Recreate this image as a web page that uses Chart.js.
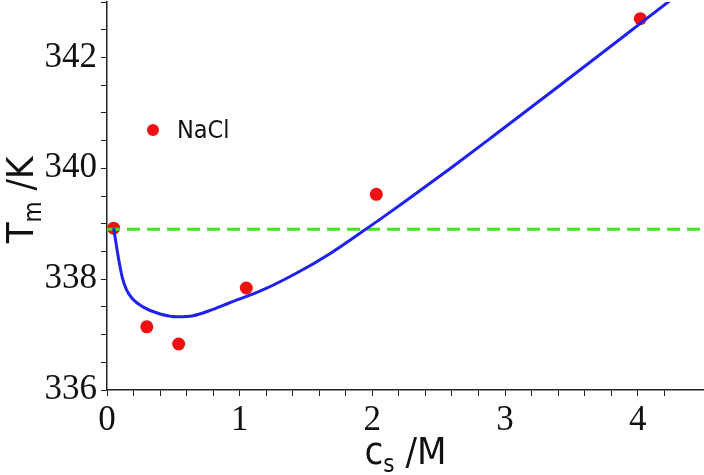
<!DOCTYPE html>
<html>
<head>
<meta charset="utf-8">
<script src="https://cdn.jsdelivr.net/npm/chart.js@4.4.0/dist/chart.umd.min.js"></script>
<style>
    html, body { margin: 0; padding: 0; background: #ffffff; }
</style>
</head>
<body>
<canvas id="grafico" width="704" height="475"></canvas>
<script>
// puntos medidos (NaCl)
const datosX = [0.05, 0.30, 0.54, 1.05, 2.03, 4.02];
const datosTm = [338.92, 337.14, 336.83, 337.84, 339.53, 342.70];

// curva teorica
const ajusteX = [0.05, 0.07, 0.09, 0.115, 0.145, 0.19, 0.27, 0.40, 0.53, 0.65, 0.77, 0.92, 1.17, 1.43, 1.68, 1.92, 2.10, 2.28, 2.60, 2.90, 3.41, 3.91, 4.23, 4.35];
const ajusteTm = [338.92, 338.62, 338.33, 338.03, 337.82, 337.65, 337.50, 337.37, 337.32, 337.34, 337.43, 337.57, 337.80, 338.11, 338.46, 338.85, 339.15, 339.46, 340.02, 340.56, 341.49, 342.41, 343.00, 343.22];

// linea de referencia (sin sal)
const referenciaX = [0, 4.5];
const referenciaTm = 338.9;

// etiquetas de los ejes
const ticksX = [0, 1, 2, 3, 4];
const ticksY = [336, 338, 340, 342];

const colores = {
    puntos: '#f01010',
    ajuste: '#1f22ee',
    referencia: '#3fe41a',
    eje: '#222222',
    texto: '#111111'
};

function etiqueta(lista) {
    return function(value) {
        const t = lista.find(v => Math.abs(v - value) < 1e-6);
        return t === undefined ? '' : String(t);
    };
}

// titulos de ejes con subindice + leyenda interna
const textosExtra = {
    id: 'textosExtra',
    afterDraw(chart) {
        const { ctx, chartArea } = chart;
        const fuente = '"DejaVu Sans Condensed", "DejaVu Sans", sans-serif';

        function conSubindice(base, sub, resto, tam) {
            ctx.font = tam + 'px ' + fuente;
            const w1 = ctx.measureText(base).width;
            const w3 = ctx.measureText(resto).width;
            ctx.font = Math.round(tam * 0.62) + 'px ' + fuente;
            const w2 = ctx.measureText(sub).width;
            const total = w1 + w2 + w3;
            let x = -total / 2;
            ctx.textAlign = 'left';
            ctx.textBaseline = 'alphabetic';
            ctx.font = tam + 'px ' + fuente;
            ctx.fillText(base, x, 0);
            x += w1;
            ctx.font = Math.round(tam * 0.62) + 'px ' + fuente;
            ctx.fillText(sub, x, tam * 0.22);
            x += w2;
            ctx.font = tam + 'px ' + fuente;
            ctx.fillText(resto, x, 0);
        }

        ctx.save();
        ctx.fillStyle = colores.texto;

        // eje y
        ctx.save();
        ctx.translate(33, 200);
        ctx.rotate(-Math.PI / 2);
        conSubindice('T', 'm', ' /K', 38);
        ctx.restore();

        // eje x
        ctx.save();
        ctx.translate((chartArea.left + chartArea.right) / 2, 464);
        conSubindice('c', 's', ' /M', 38);
        ctx.restore();

        // leyenda
        const lx = chartArea.left + 46;
        const ly = chartArea.top + 128;
        ctx.beginPath();
        ctx.arc(lx, ly, 6, 0, Math.PI * 2);
        ctx.fillStyle = colores.puntos;
        ctx.fill();
        ctx.fillStyle = colores.texto;
        ctx.font = '25px ' + fuente;
        ctx.textAlign = 'left';
        ctx.textBaseline = 'middle';
        ctx.fillText('NaCl', lx + 24, ly + 1);

        ctx.restore();
    }
};

const ctx = document.getElementById('grafico');

new Chart(ctx, {
    type: 'scatter',
    data: {
        datasets: [
            {
                label: 'ajuste',
                type: 'line',
                data: ajusteX.map((x, i) => ({ x: x, y: ajusteTm[i] })),
                borderColor: colores.ajuste,
                borderWidth: 3,
                pointRadius: 0,
                fill: false,
                cubicInterpolationMode: 'monotone'
            },
            {
                label: 'referencia',
                type: 'line',
                data: referenciaX.map(x => ({ x: x, y: referenciaTm })),
                borderColor: colores.referencia,
                borderWidth: 3,
                borderDash: [13, 7],
                pointRadius: 0,
                fill: false
            },
            {
                label: 'NaCl',
                data: datosX.map((x, i) => ({ x: x, y: datosTm[i] })),
                backgroundColor: colores.puntos,
                borderWidth: 0,
                pointRadius: 6.5
            }
        ]
    },
    options: {
        responsive: false,
        animation: false,
        layout: {
            autoPadding: false,
            padding: { top: 2, left: 0, right: 0, bottom: 0 }
        },
        scales: {
            x: {
                type: 'linear',
                min: 0,
                max: 4.5,
                afterFit: function(scale) {
                    scale.height = 85;
                    scale.paddingLeft = 0;
                    scale.paddingRight = 0;
                },
                border: { color: colores.eje, width: 1.5 },
                grid: {
                    drawOnChartArea: false,
                    drawTicks: true,
                    tickLength: 6,
                    color: colores.eje
                },
                ticks: {
                    stepSize: 0.2,
                    autoSkip: false,
                    maxRotation: 0,
                    padding: 4,
                    color: colores.texto,
                    font: { family: '"Liberation Serif", serif', size: 35 },
                    callback: etiqueta(ticksX)
                }
            },
            y: {
                type: 'linear',
                min: 336,
                max: 343,
                afterFit: function(scale) {
                    scale.width = 107;
                    scale.paddingTop = 0;
                    scale.paddingBottom = 0;
                },
                border: { color: colores.eje, width: 1.5 },
                grid: {
                    drawOnChartArea: false,
                    drawTicks: true,
                    tickLength: 6,
                    color: colores.eje
                },
                ticks: {
                    stepSize: 0.5,
                    autoSkip: false,
                    padding: 4,
                    color: colores.texto,
                    font: { family: '"Liberation Serif", serif', size: 35 },
                    callback: etiqueta(ticksY)
                }
            }
        },
        plugins: {
            legend: { display: false },
            tooltip: { enabled: false }
        }
    },
    plugins: [textosExtra]
});
</script>
</body>
</html>
